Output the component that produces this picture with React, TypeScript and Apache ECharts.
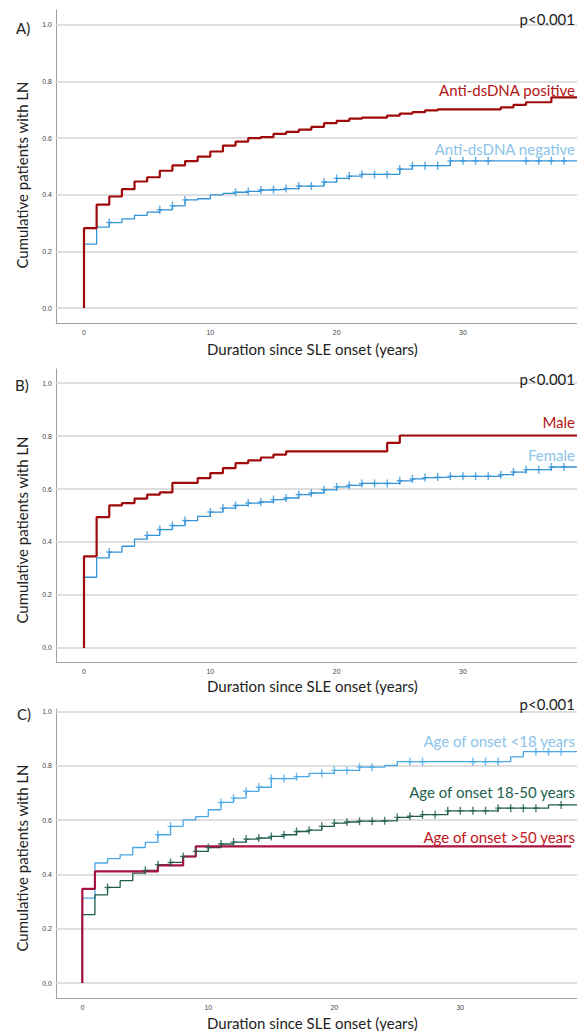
import React, { useEffect, useRef } from "react";
import * as echarts from "echarts";

// ---------- shared ticks ----------
const yTicks = [0, 0.2, 0.4, 0.6, 0.8, 1.0];
const xTicks = [0, 10, 20, 30];

// ---------- Panel A: Anti-dsDNA ----------
const posYearsA = [0, 0, 1, 2, 3, 4, 5, 6, 7, 8, 9, 10, 11, 12, 13, 14, 15, 16, 17, 18, 19, 20, 21, 22, 24, 25, 26, 27, 28, 33, 34, 35, 37];
const posValsA = [0, 0.282, 0.365, 0.394, 0.42, 0.447, 0.462, 0.485, 0.504, 0.519, 0.535, 0.553, 0.574, 0.588, 0.6, 0.604, 0.615, 0.622, 0.63, 0.64, 0.653, 0.661, 0.669, 0.673, 0.68, 0.687, 0.692, 0.698, 0.702, 0.709, 0.718, 0.727, 0.744];
const posEndA = 39.5;
const negYearsA = [0, 0, 1, 2, 3, 4, 5, 6, 7, 8, 9, 10, 11, 12, 13, 14, 15, 16, 17, 19, 20, 21, 22, 25, 26, 29];
const negValsA = [0, 0.226, 0.286, 0.302, 0.315, 0.327, 0.339, 0.347, 0.361, 0.382, 0.386, 0.4, 0.405, 0.409, 0.412, 0.417, 0.419, 0.422, 0.431, 0.445, 0.458, 0.466, 0.472, 0.491, 0.503, 0.52];
const negEndA = 39.5;
const negCensorA = [2, 6, 7, 8, 12, 13, 14, 15, 16, 17, 18, 19, 20, 21, 22, 23, 24, 25, 26, 27, 28, 29, 30, 31, 32, 35, 36, 37, 38];

// ---------- Panel B: Sex ----------
const maleYearsB = [0, 0, 1, 2, 3, 4, 5, 6, 7, 9, 10, 11, 12, 13, 14, 15, 16, 24, 25];
const maleValsB = [0, 0.346, 0.494, 0.538, 0.547, 0.564, 0.579, 0.587, 0.623, 0.641, 0.66, 0.679, 0.698, 0.708, 0.719, 0.73, 0.742, 0.774, 0.802];
const maleEndB = 39.5;
const femYearsB = [0, 0, 1, 2, 3, 4, 5, 6, 7, 8, 9, 10, 11, 12, 13, 14, 15, 16, 17, 18, 19, 20, 21, 22, 25, 26, 27, 28, 29, 33, 34, 35, 37];
const femValsB = [0, 0.267, 0.34, 0.362, 0.384, 0.411, 0.425, 0.447, 0.462, 0.481, 0.497, 0.513, 0.528, 0.538, 0.547, 0.551, 0.56, 0.566, 0.579, 0.585, 0.597, 0.608, 0.614, 0.621, 0.631, 0.638, 0.643, 0.645, 0.648, 0.654, 0.664, 0.673, 0.683];
const femEndB = 39.5;
const femCensorB = [2, 5, 6, 7, 8, 10, 11, 12, 13, 14, 15, 16, 17, 18, 19, 20, 21, 22, 23, 24, 25, 26, 27, 28, 29, 30, 31, 32, 33, 34, 35, 36, 37, 38];

// ---------- Panel C: Age of onset ----------
const youngYearsC = [0, 0, 1, 2, 3, 4, 5, 6, 7, 8, 9, 10, 11, 12, 13, 14, 15, 17, 18, 20, 22, 24, 25, 34, 35];
const youngValsC = [0, 0.313, 0.442, 0.458, 0.472, 0.499, 0.518, 0.546, 0.577, 0.601, 0.613, 0.638, 0.665, 0.681, 0.706, 0.721, 0.753, 0.76, 0.772, 0.783, 0.795, 0.801, 0.815, 0.833, 0.852];
const youngEndC = 39.5;
const youngCensorC = [6, 7, 11, 12, 13, 14, 15, 16, 17, 19, 20, 21, 22, 23, 26, 27, 31, 32, 33, 36, 37, 38];
const midYearsC = [0, 0, 1, 2, 3, 4, 5, 6, 7, 8, 9, 10, 11, 12, 13, 14, 15, 16, 17, 18, 19, 20, 21, 22, 24, 25, 26, 27, 29, 33, 37];
const midValsC = [0, 0.252, 0.325, 0.352, 0.377, 0.405, 0.415, 0.436, 0.444, 0.466, 0.485, 0.499, 0.512, 0.519, 0.53, 0.534, 0.54, 0.546, 0.558, 0.563, 0.577, 0.589, 0.593, 0.596, 0.598, 0.61, 0.614, 0.62, 0.634, 0.644, 0.656];
const midEndC = 39.5;
const midCensorC = [2, 5, 6, 7, 8, 9, 10, 11, 12, 13, 14, 15, 16, 17, 18, 19, 20, 21, 22, 23, 24, 25, 26, 27, 28, 29, 30, 31, 32, 33, 34, 35, 36, 38];
const oldYearsC = [0, 0, 1, 6, 8, 9];
const oldValsC = [0, 0.347, 0.411, 0.433, 0.466, 0.503];
const oldEndC = 38.8;

// ---------- colours ----------
const RED = "#a00a0a";
const BLUE = "#3393d8";
const LBLUE = "#4aa8e6";
const GREEN = "#1f5d50";
const CRIMSON = "#a8123f";

const CENSOR = "path://M2.3,0 L3.7,0 L3.7,3.3 L6,3.3 L6,4.7 L3.7,4.7 L3.7,8 L2.3,8 L2.3,4.7 L0,4.7 L0,3.3 L2.3,3.3 Z";

function stepPoints(years: number[], vals: number[], end: number) {
  const pts = years.map((y, i) => [y, vals[i]]);
  pts.push([end, vals[vals.length - 1]]);
  return pts;
}
function valueAt(years: number[], vals: number[], x: number) {
  let v = vals[0];
  for (let i = 0; i < years.length; i++) if (years[i] <= x) v = vals[i];
  return v;
}

function curve(idx: number, years: number[], vals: number[], end: number, color: string, width: number) {
  return {
    type: "line",
    xAxisIndex: idx,
    yAxisIndex: idx,
    step: "end",
    showSymbol: false,
    symbol: "none",
    silent: true,
    z: 3,
    lineStyle: { color, width },
    data: stepPoints(years, vals, end),
  };
}
function censors(idx: number, years: number[], vals: number[], marks: number[], color: string) {
  return {
    type: "scatter",
    xAxisIndex: idx,
    yAxisIndex: idx,
    symbol: CENSOR,
    symbolSize: [6, 8],
    silent: true,
    z: 4,
    itemStyle: { color },
    data: marks.map((m) => [m, valueAt(years, vals, m)]),
  };
}
function gridLines(idx: number) {
  return {
    type: "line",
    xAxisIndex: idx,
    yAxisIndex: idx,
    data: [],
    silent: true,
    z: 1,
    markLine: {
      silent: true,
      z: 1,
      symbol: ["none", "none"],
      label: { show: false },
      lineStyle: { color: "#d3d3d3", width: 1.5, type: "solid" },
      data: yTicks.map((v) => ({ yAxis: v })),
    },
  };
}

const panelGrids = [
  { left: 56, right: 0, top: 10, height: 313 },
  { left: 56, right: 0, top: 369, height: 293 },
  { left: 56, right: 0, top: 709, height: 289 },
];
const xRanges = [
  [-2.217, 39.03],
  [-2.217, 39.03],
  [-2.09, 39.26],
];
const yRanges = [
  [-0.053, 1.053],
  [-0.053, 1.053],
  [-0.055, 1.009],
];

const FONT = "Lato";

function txt(text: string, x: number, y: number, color: string, size = 15, align = "left", rotation = 0) {
  return {
    type: "text",
    x,
    y,
    rotation,
    silent: true,
    z: 10,
    style: {
      text,
      fill: color,
      font: `${size}px ${FONT}`,
      textAlign: align,
      textVerticalAlign: "middle",
    },
  };
}

export default function App() {
  const ref = useRef<HTMLDivElement>(null);
  useEffect(() => {
    if (!ref.current) return;
    const chart = echarts.init(ref.current, null, { renderer: "svg" });
    const xAxis = panelGrids.map((_, i) => ({
      type: "value",
      gridIndex: i,
      min: xRanges[i][0],
      max: xRanges[i][1],
      axisLine: { show: true, onZero: false, lineStyle: { color: "#a0a0a0", width: 1 } },
      axisTick: { show: false },
      splitLine: { show: false },
      axisLabel: { customValues: xTicks, fontSize: 7, color: "#444", margin: 6, fontFamily: "Liberation Sans" },
    }));
    const yAxis = panelGrids.map((_, i) => ({
      type: "value",
      gridIndex: i,
      min: yRanges[i][0],
      max: yRanges[i][1],
      axisLine: { show: true, onZero: false, lineStyle: { color: "#a0a0a0", width: 1 } },
      axisTick: { show: false },
      splitLine: { show: false },
      axisLabel: {
        customValues: yTicks,
        formatter: (v: number) => v.toFixed(1),
        fontSize: 7,
        color: "#444",
        margin: 4,
        fontFamily: "Liberation Sans",
      },
    }));
    const series = [
      gridLines(0),
      gridLines(1),
      gridLines(2),
      curve(0, negYearsA, negValsA, negEndA, BLUE, 1.3),
      censors(0, negYearsA, negValsA, negCensorA, BLUE),
      curve(0, posYearsA, posValsA, posEndA, RED, 2.2),
      curve(1, femYearsB, femValsB, femEndB, BLUE, 1.3),
      censors(1, femYearsB, femValsB, femCensorB, BLUE),
      curve(1, maleYearsB, maleValsB, maleEndB, RED, 2.2),
      curve(2, youngYearsC, youngValsC, youngEndC, LBLUE, 1.3),
      censors(2, youngYearsC, youngValsC, youngCensorC, LBLUE),
      curve(2, midYearsC, midValsC, midEndC, GREEN, 1.3),
      censors(2, midYearsC, midValsC, midCensorC, GREEN),
      curve(2, oldYearsC, oldValsC, oldEndC, CRIMSON, 2.2),
    ];
    const TITLE = "#222";
    const graphic = [
      txt("A)", 16, 28, TITLE),
      txt("B)", 15, 385, TITLE),
      txt("C)", 17, 714, TITLE),
      txt("p<0.001", 575, 19, TITLE, 15, "right"),
      txt("p<0.001", 575, 379, TITLE, 15, "right"),
      txt("p<0.001", 575, 704, TITLE, 15, "right"),
      txt("Cumulative patients with LN", 22, 175, TITLE, 15, "center", Math.PI / 2),
      txt("Cumulative patients with LN", 22, 530, TITLE, 15, "center", Math.PI / 2),
      txt("Cumulative patients with LN", 22, 858, TITLE, 15, "center", Math.PI / 2),
      txt("Duration since SLE onset (years)", 207, 349, TITLE),
      txt("Duration since SLE onset (years)", 207, 686, TITLE),
      txt("Duration since SLE onset (years)", 207, 1023, TITLE),
      txt("Anti-dsDNA positive", 575, 90, "#b01515", 15, "right"),
      txt("Anti-dsDNA negative", 575, 149, "#8cc4ea", 15, "right"),
      txt("Male", 575, 422, "#b01515", 15, "right"),
      txt("Female", 575, 455, "#8cc4ea", 15, "right"),
      txt("Age of onset <18 years", 575, 741, "#8cc4ea", 15, "right"),
      txt("Age of onset 18-50 years", 575, 792, "#22604f", 15, "right"),
      txt("Age of onset >50 years", 575, 837, "#c0141c", 15, "right"),
    ];
    chart.setOption({
      animation: false,
      backgroundColor: "#ffffff",
      grid: panelGrids,
      xAxis,
      yAxis,
      series,
      graphic,
    });
    return () => chart.dispose();
  }, []);
  return (
    <div
      ref={ref}
      style={{ position: "absolute", left: 0, top: 0, width: 577, height: 1031, overflow: "hidden" }}
    />
  );
}
